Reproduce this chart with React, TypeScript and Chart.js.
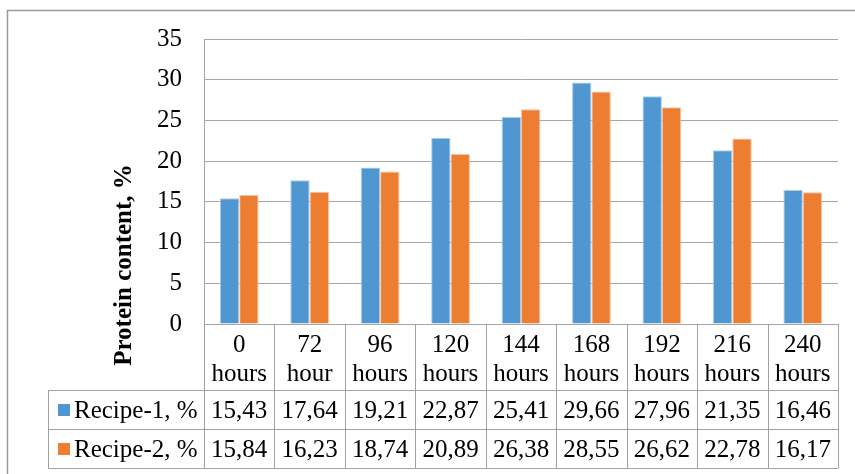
import React, { useEffect, useRef } from 'react';
import { Chart, registerables } from 'chart.js';

Chart.register(...registerables);

// ---- data ----
const hoursTop = ['0', '72', '96', '120', '144', '168', '192', '216', '240'];
const hoursUnit = ['hours', 'hour', 'hours', 'hours', 'hours', 'hours', 'hours', 'hours', 'hours'];
const recipe1 = [15.43, 17.64, 19.21, 22.87, 25.41, 29.66, 27.96, 21.35, 16.46];
const recipe2 = [15.84, 16.23, 18.74, 20.89, 26.38, 28.55, 26.62, 22.78, 16.17];
const seriesNames = ['Recipe-1, %', 'Recipe-2, %'];
const axisTitle = 'Protein content, %';
const yMin = 0;
const yMax = 35;
const yStep = 5;

const BLUE = '#5097D2';
const ORANGE = '#ED7D31';
const FONT = "'Liberation Serif', 'Times New Roman', serif";

const fmt = (v: number) => v.toFixed(2).replace('.', ',');

const tablePlugin = {
  id: 'dataTable',
  afterDraw(chart: any) {
    const { ctx, chartArea: ca, scales } = chart;
    const xs = scales.x;
    const n = hoursTop.length;
    const colW = ca.width / n;
    const top = ca.bottom;
    const hdrBottom = top + 66;
    const r1Bottom = hdrBottom + 39;
    const r2Bottom = r1Bottom + 39;
    const legendLeft = 48;

    ctx.save();
    // outer frame
    ctx.strokeStyle = '#9a9a9a';
    ctx.lineWidth = 1.5;
    ctx.beginPath();
    ctx.moveTo(7.5, chart.height);
    ctx.lineTo(7.5, 10.5);
    ctx.lineTo(chart.width, 10.5);
    ctx.stroke();

    // table grid
    ctx.strokeStyle = '#a0a0a0';
    ctx.lineWidth = 1;
    ctx.beginPath();
    for (let i = 0; i <= n; i++) {
      const x = Math.round(ca.left + i * colW) + 0.5;
      ctx.moveTo(x, top);
      ctx.lineTo(x, r2Bottom);
    }
    ctx.moveTo(legendLeft + 0.5, hdrBottom);
    ctx.lineTo(legendLeft + 0.5, r2Bottom);
    [hdrBottom, r1Bottom, r2Bottom].forEach((y, k) => {
      ctx.moveTo(k === 0 ? legendLeft : legendLeft, Math.round(y) + 0.5);
      ctx.lineTo(ca.right, Math.round(y) + 0.5);
    });
    ctx.stroke();

    // header text
    ctx.fillStyle = '#000';
    ctx.font = `25px ${FONT}`;
    ctx.textAlign = 'center';
    ctx.textBaseline = 'alphabetic';
    for (let i = 0; i < n; i++) {
      const cx = xs.getPixelForValue(i);
      ctx.fillText(hoursTop[i], cx, top + 28);
      ctx.fillText(hoursUnit[i], cx, top + 57);
      ctx.fillText(fmt(recipe1[i]), cx, hdrBottom + 28);
      ctx.fillText(fmt(recipe2[i]), cx, r1Bottom + 28);
    }

    // legend keys
    const colors = [BLUE, ORANGE];
    [hdrBottom, r1Bottom].forEach((rowTop, k) => {
      ctx.fillStyle = colors[k];
      ctx.fillRect(58, rowTop + 14, 12, 12);
      ctx.fillStyle = '#000';
      ctx.textAlign = 'left';
      ctx.fillText(seriesNames[k], 74, rowTop + 28);
    });

    // axis title
    ctx.save();
    ctx.translate(131, 265);
    ctx.rotate(-Math.PI / 2);
    ctx.font = `bold 25px ${FONT}`;
    ctx.textAlign = 'center';
    ctx.textBaseline = 'alphabetic';
    ctx.fillStyle = '#000';
    ctx.fillText(axisTitle, 0, 0);
    ctx.restore();

    ctx.restore();
  },
};

export default function App() {
  const ref = useRef<HTMLCanvasElement | null>(null);
  useEffect(() => {
    if (!ref.current) return;
    const chart = new Chart(ref.current, {
      type: 'bar',
      data: {
        labels: hoursTop.map((h, i) => `${h} ${hoursUnit[i]}`),
        datasets: [
          {
            label: seriesNames[0],
            data: recipe1,
            backgroundColor: BLUE,
            borderColor: '#a8cdec',
            borderWidth: 1,
          },
          {
            label: seriesNames[1],
            data: recipe2,
            backgroundColor: ORANGE,
            borderColor: '#f7c4a0',
            borderWidth: 1,
          },
        ],
      },
      options: {
        responsive: false,
        animation: false,
        devicePixelRatio: 1,
        layout: { padding: { top: 39, right: 17, bottom: 150, left: 0 } },
        datasets: { bar: { categoryPercentage: 0.55, barPercentage: 1 } },
        plugins: { legend: { display: false }, tooltip: { enabled: false } },
        scales: {
          x: { display: false },
          y: {
            min: yMin,
            max: yMax,
            ticks: {
              stepSize: yStep,
              color: '#000',
              padding: 22,
              font: { family: FONT, size: 25 },
            },
            grid: { color: '#a6a6a6', lineWidth: 1, drawTicks: false },
            border: { display: true, color: '#a6a6a6' },
            afterFit: (scale: any) => {
              scale.width = 204;
            },
          },
        },
      },
      plugins: [tablePlugin],
    });
    return () => chart.destroy();
  }, []);
  return (
    <div style={{ position: 'fixed', left: 0, top: 0, width: 855, height: 474, background: '#fff' }}>
      <canvas ref={ref} width={855} height={474} />
    </div>
  );
}
